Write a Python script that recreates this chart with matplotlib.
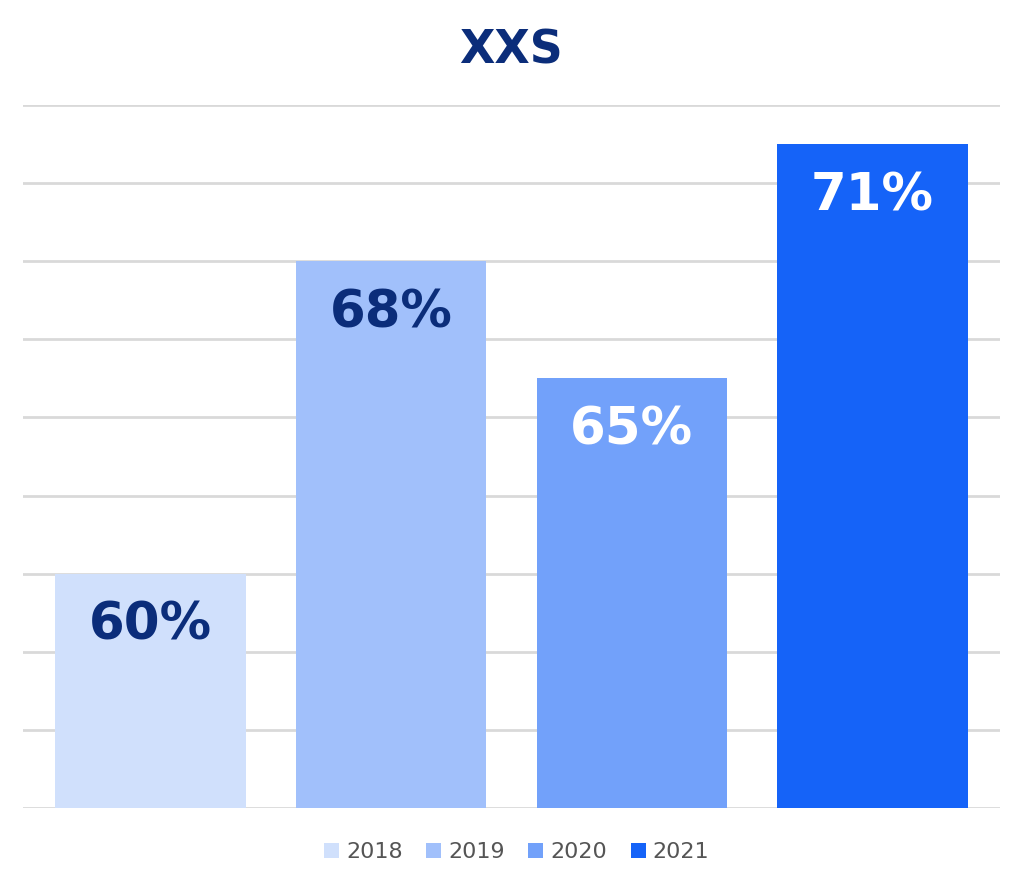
import matplotlib.pyplot as plt
from matplotlib.patches import Patch

years = ["2018", "2019", "2020", "2021"]
shares = [60, 68, 65, 71]
bar_colors = ["#D0E0FC", "#A1C0FB", "#72A1FA", "#1563F8"]
label_colors = ["#0B2D7A", "#0B2D7A", "#FFFFFF", "#FFFFFF"]
title = "XXS"

navy = "#0B2D7A"
plt.rcParams["font.family"] = ["DejaVu Sans"]

fig = plt.figure(figsize=(10.23, 8.89), dpi=100)
ax = fig.add_axes([23 / 1023, 1 - 808 / 889, 977 / 1023, 703 / 889])

x = range(len(years))
ax.bar(x, shares, width=0.79, color=bar_colors, zorder=2)
for xi, v, c in zip(x, shares, label_colors):
    ax.annotate(f"{v}%", (xi, v), xytext=(0, -47.5), textcoords="offset points",
                ha="center", va="baseline", fontsize=37, fontweight="bold", color=c, zorder=3)

ax.set_ylim(54, 72)
ax.set_xlim(-0.53, 3.53)
ax.set_yticks(range(54, 73, 2))
ax.yaxis.grid(True, color="#D9D9D9", linewidth=2)
ax.set_axisbelow(True)
ax.tick_params(left=False, bottom=False, labelleft=False, labelbottom=False)
for s in ax.spines.values():
    s.set_visible(False)

fig.text(0.5, 1 - 63 / 889, title, ha="center", va="baseline",
         fontsize=33, fontweight="bold", color=navy)

handles = [Patch(facecolor=c, edgecolor="none") for c in bar_colors]
fig.legend(handles, years, loc="center", bbox_to_anchor=(0.505, 1 - 852 / 889),
           ncol=4, frameon=False, fontsize=16, labelcolor="#555555",
           handlelength=0.68, handleheight=0.68, handletextpad=0.32, columnspacing=1.05)

fig.savefig("out.png", dpi=100)
